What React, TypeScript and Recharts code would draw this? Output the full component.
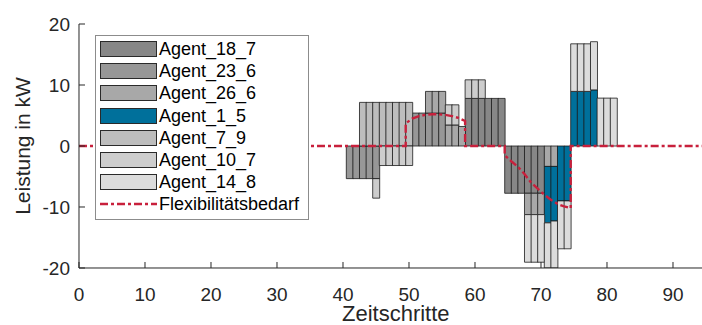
import React from "react";
import { ComposedChart, Bar, Line, XAxis, YAxis, Legend, Label } from "recharts";

// Zeitschritte 1..95 (Viertelstunden)
const zeitschritte: number[] = Array.from({ length: 95 }, (_, i) => i + 1);

const agentNamen = ["Agent_18_7", "Agent_23_6", "Agent_26_6", "Agent_1_5", "Agent_7_9", "Agent_10_7", "Agent_14_8"];

// [Zeitschritt, Leistung in kW]
const agent18_7: [number, number][] = [
  [59, 7.8], [60, 7.8], [61, 7.8], [62, 7.8], [63, 7.8], [64, 7.8],
  [65, -7.75], [66, -7.75], [67, -7.75], [68, -7.75], [69, -7.75], [70, -7.75],
];
const agent23_6: [number, number][] = [
  [41, -5.35], [42, -5.35], [43, -5.35], [44, -5.35], [45, -5.35],
  [51, 5.4], [52, 5.4], [53, 5.4], [54, 5.4], [55, 5.4],
];
const agent26_6: [number, number][] = [
  [53, 3.55], [54, 3.55], [55, 3.55], [56, 3.45], [57, 3.45], [58, 3.2],
  [68, -3.5], [69, -3.5], [70, -3.5], [71, -3.35], [72, -3.35],
];
const agent1_5: [number, number][] = [
  [71, -9.25], [72, -8.95], [73, -9.0], [74, -9.0],
  [75, 8.95], [76, 8.95], [77, 8.95], [78, 9.2],
];
const agent7_9: [number, number][] = [
  [43, 7.15], [44, 7.15], [45, 7.15], [46, 7.15], [47, 7.15], [48, 7.15], [49, 7.15], [50, 7.15],
];
const agent10_7: [number, number][] = [
  [45, -3.2], [46, -3.2], [47, -3.2], [48, -3.2], [49, -3.2], [50, -3.2],
  [56, 3.3], [57, 3.3], [59, 3.05], [60, 3.05], [61, 3.05],
];
const agent14_8: [number, number][] = [
  [68, -7.8], [69, -7.8], [70, -7.8], [71, -7.8], [72, -7.8], [73, -7.85], [74, -7.85],
  [75, 7.8], [76, 7.8], [77, 7.8], [78, 7.9], [79, 7.85], [80, 7.85], [81, 7.85],
];

const agentWerte = [agent18_7, agent23_6, agent26_6, agent1_5, agent7_9, agent10_7, agent14_8];

// Flexibilitätsbedarf als Kurve [Zeitschritt, kW]
const flexBedarf: [number, number][] = [
  [0, 0], [49.5, 0], [49.5, 3.7], [50.5, 4.5], [51.5, 4.9], [52.5, 5.1], [53.5, 5.2],
  [54.5, 5.2], [55.5, 5.1], [56.5, 4.9], [57.5, 4.6], [58.5, 4.1], [58.5, 0],
  [64.5, 0], [64.5, -1.5], [65.5, -2.5], [66.5, -3.4], [67.5, -4.6], [68.5, -6.0],
  [69.5, -7.0], [70.5, -8.0], [71.5, -8.8], [72.5, -9.5], [73.5, -9.9], [74.5, -10.2],
  [74.5, 0], [96, 0],
];

const xTicks = [0, 10, 20, 30, 40, 50, 60, 70, 80, 90];
const yTicks = [-20, -10, 0, 10, 20];

const farben = ["#878787", "#979797", "#a8a8a8", "#00709b", "#bdbdbd", "#cdcdcd", "#dcdcdc"];
const flexFarbe = "#c8203c";
const achsenFarbe = "#262626";
const schrift = "'Liberation Sans', Arial, Helvetica, sans-serif";

const X_MAX = 96;
const PLOT_W = 633.6;
const Y_AXIS_W = 79;

const rows = zeitschritte.map((t) => {
  const r: Record<string, number> = { t };
  agentNamen.forEach((name, i) => {
    const hit = agentWerte[i].find(([z]) => z === t);
    r[name] = hit ? hit[1] : 0;
  });
  return r;
});

const flexData = flexBedarf.map(([t, v]) => ({ t, flex: v }));

function LegendBox({ payload }: any) {
  const order = [...agentNamen, "Flexibilitätsbedarf"];
  const items = [...(payload || [])].sort(
    (a: any, b: any) => order.indexOf(a.value) - order.indexOf(b.value)
  );
  return (
    <div
      style={{
        boxSizing: "border-box",
        width: 214,
        height: 185,
        border: "1px solid #8c8c8c",
        background: "#fff",
        paddingTop: 2,
        fontFamily: schrift,
      }}
    >
      {items.map((e: any) => (
        <div key={e.value} style={{ display: "flex", alignItems: "center", height: 22.2 }}>
          {e.type === "line" ? (
            <svg width={57} height={6} style={{ marginLeft: 4 }}>
              <line x1={0} y1={3} x2={57} y2={3} stroke={flexFarbe} strokeWidth={2.4} strokeDasharray="8 3 3 3" />
            </svg>
          ) : (
            <div
              style={{
                boxSizing: "border-box",
                marginLeft: 4,
                width: 57,
                height: 16,
                background: e.color,
                border: "1px solid #2a2a2a",
              }}
            />
          )}
          <span style={{ marginLeft: 2, fontSize: 18, lineHeight: 1, color: "#000" }}>{e.value}</span>
        </div>
      ))}
    </div>
  );
}

export default function App() {
  return (
    <div
      style={{
        position: "absolute",
        left: 0,
        top: 0,
        width: 702,
        height: 325,
        overflow: "hidden",
        background: "#fff",
        fontFamily: schrift,
      }}
    >
      <ComposedChart
        width={Y_AXIS_W + PLOT_W + 10}
        height={325}
        data={rows}
        stackOffset="sign"
        barCategoryGap={0}
        barGap={0}
        margin={{ top: 24, right: 10, bottom: 0, left: 0 }}
      >
        <XAxis
          xAxisId="main"
          dataKey="t"
          type="number"
          domain={[0, X_MAX]}
          allowDataOverflow
          ticks={xTicks}
          interval={0}
          height={57}
          tickSize={-6}
          tickMargin={26}
          axisLine={{ stroke: achsenFarbe }}
          tickLine={{ stroke: achsenFarbe }}
          tick={{ fill: achsenFarbe, fontSize: 19, fontFamily: schrift }}
        >
          <Label
            value="Zeitschritte"
            position="insideBottom"
            offset={4}
            style={{ fill: achsenFarbe, fontSize: 22, fontFamily: schrift }}
          />
        </XAxis>
        <XAxis xAxisId="bars" dataKey="t" type="number" domain={[0, X_MAX]} allowDataOverflow height={0} hide />
        <XAxis
          xAxisId="top"
          orientation="top"
          dataKey="t"
          type="number"
          domain={[0, X_MAX]}
          allowDataOverflow
          ticks={xTicks}
          interval={0}
          height={0}
          tickSize={-6}
          tick={false}
          axisLine={{ stroke: achsenFarbe }}
          tickLine={{ stroke: achsenFarbe }}
        />
        <YAxis
          type="number"
          domain={[-20, 20]}
          ticks={yTicks}
          interval={0}
          width={Y_AXIS_W}
          tickSize={-6}
          tickMargin={15}
          allowDataOverflow
          axisLine={{ stroke: achsenFarbe }}
          tickLine={{ stroke: achsenFarbe }}
          tick={{ fill: achsenFarbe, fontSize: 19, fontFamily: schrift }}
        >
          <Label
            content={({ viewBox }: any) => {
              const cx = viewBox.x + 22.5;
              const cy = viewBox.y + viewBox.height / 2;
              return (
                <text
                  x={cx}
                  y={cy}
                  transform={`rotate(-90, ${cx}, ${cy})`}
                  textAnchor="middle"
                  dominantBaseline="central"
                  fill={achsenFarbe}
                  fontSize={21}
                  fontFamily={schrift}
                >
                  Leistung in kW
                </text>
              );
            }}
          />
        </YAxis>
        {agentNamen.map((name, i) => (
          <Bar
            key={name}
            xAxisId="bars"
            dataKey={name}
            name={name}
            stackId="agenten"
            fill={farben[i]}
            stroke="#1a1a1a"
            strokeWidth={0.8}
            isAnimationActive={false}
          />
        ))}
        <Line
          xAxisId="main"
          data={flexData}
          dataKey="flex"
          name="Flexibilitätsbedarf"
          type="linear"
          stroke={flexFarbe}
          strokeWidth={2.4}
          strokeDasharray="8 3 3 3"
          dot={false}
          activeDot={false}
          legendType="line"
          isAnimationActive={false}
        />
        <Legend
          layout="vertical"
          align="center"
          verticalAlign="middle"
          wrapperStyle={{ left: 95, top: 35, width: 214 }}
          content={<LegendBox />}
        />
      </ComposedChart>
    </div>
  );
}
